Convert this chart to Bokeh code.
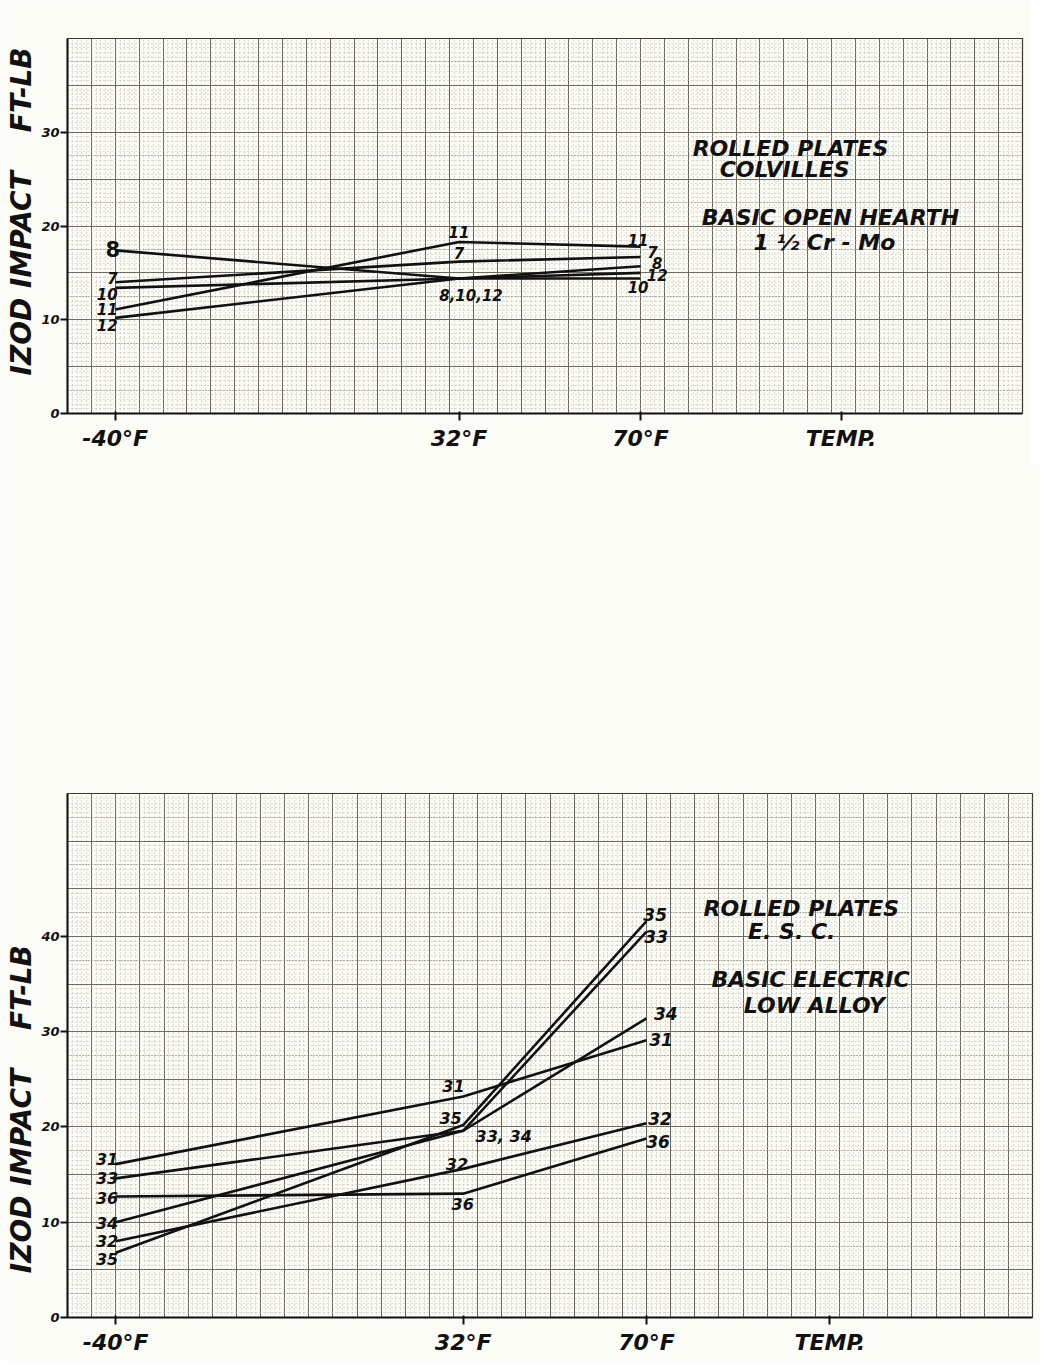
from bokeh.plotting import figure
from bokeh.models import (Range1d, FixedTicker, SingleIntervalTicker, Grid,
                          ColumnDataSource)
from bokeh.layouts import column
from bokeh.core.properties import value
from bokeh.embed import file_html
from bokeh.resources import INLINE

# ---------------- data ----------------
temps = [-40, 32, 70]
temp_tick_labels = {-40: "-40°F", 32: "32°F", 70: "70°F"}

# Top panel: Colvilles, basic open hearth 1 1/2 Cr-Mo
top_series_names = ["7", "8", "10", "11", "12"]
top_s7 = [14.0, 16.2, 16.7]
top_s8 = [17.4, 14.4, 15.7]
top_s10 = [13.4, 14.4, 14.4]
top_s11 = [11.1, 18.3, 17.8]
top_s12 = [10.2, 14.4, 15.0]
top_yticks = [0, 10, 20, 30]

# Bottom panel: E.S.C., basic electric low alloy
bot_series_names = ["31", "32", "33", "34", "35", "36"]
bot_s31 = [16.1, 23.2, 29.1]
bot_s32 = [8.0, 15.6, 20.4]
bot_s33 = [14.6, 19.6, 40.5]
bot_s34 = [10.0, 19.6, 31.4]
bot_s35 = [6.8, 20.2, 41.6]
bot_s36 = [12.7, 13.0, 18.8]
bot_yticks = [0, 10, 20, 30, 40]

# series labels as written on the chart
top_labels_left = ["7", "10", "11", "12"]
top_labels_left_y = [14.5, 12.7, 11.1, 9.4]
top_label_8 = ("8", 17.6)
top_labels_mid = ["11", "7", "8,10,12"]
top_labels_mid_x = [32.0, 32.0, 34.5]
top_labels_mid_y = [19.4, 17.1, 12.6]
top_labels_right = ["11", "7", "8", "12", "10"]
top_labels_right_x = [69.5, 72.5, 73.5, 73.5, 69.5]
top_labels_right_y = [18.5, 17.2, 16.1, 14.8, 13.5]

bot_labels_left = ["31", "33", "36", "34", "32", "35"]
bot_labels_left_y = [16.6, 14.6, 12.5, 9.9, 8.0, 6.1]
bot_labels_mid = ["31", "35", "33, 34", "32", "36"]
bot_labels_mid_x = [30.0, 29.4, 40.4, 30.7, 31.9]
bot_labels_mid_y = [24.3, 20.9, 19.0, 16.1, 11.9]
bot_labels_right = ["35", "33", "34", "31", "32", "36"]
bot_labels_right_x = [71.8, 72.0, 74.0, 73.0, 72.8, 72.4]
bot_labels_right_y = [42.3, 40.0, 31.9, 29.2, 20.9, 18.5]

top_notes = ["ROLLED PLATES", "COLVILLES", "BASIC OPEN HEARTH", "1 ½ Cr - Mo"]
top_notes_x = [101.4, 100.2, 109.8, 108.5]
top_notes_y = [28.3, 26.0, 20.9, 18.2]
bot_notes = ["ROLLED PLATES", "E. S. C.", "BASIC ELECTRIC", "LOW ALLOY"]
bot_notes_x = [102.1, 100.1, 104.0, 104.8]
bot_notes_y = [42.9, 40.5, 35.5, 32.8]

NB = "\u00a0"
y_title = "IZOD IMPACT" + NB * 4 + "FT-LB"
x_title = "TEMP."
top_x_title_at = 112
bot_x_title_at = 108

# ---------------- style ----------------
FONT_NAME = "DejaVu Sans"
FONT = value(FONT_NAME)
PAPER = "#fcfcf7"
INK = "#111111"


def make_panel(height, width, ymax, yticks, xticks, xlabels, ytitle,
               b_left, b_right, b_top, b_bottom):
    p = figure(width=width, height=height, output_backend="svg", toolbar_location=None,
               x_range=Range1d(-50, 150), y_range=Range1d(0, ymax),
               min_border_left=b_left, min_border_right=b_right,
               min_border_top=b_top, min_border_bottom=b_bottom)
    p.background_fill_color = PAPER
    p.border_fill_color = PAPER
    p.outline_line_color = "#3a382f"
    p.outline_line_width = 1.2

    # graph-paper grid
    p.xgrid.ticker = SingleIntervalTicker(interval=5, num_minor_ticks=5)
    p.xgrid.grid_line_color = "#6a665e"
    p.xgrid.grid_line_width = 1.0
    p.xgrid.minor_grid_line_color = "#bcb8a8"
    p.xgrid.minor_grid_line_dash = "1 3"
    p.xgrid.minor_grid_line_width = 1.0
    p.ygrid.ticker = SingleIntervalTicker(interval=5, num_minor_ticks=10)
    p.ygrid.grid_line_color = "#6a665e"
    p.ygrid.grid_line_width = 1.0
    p.ygrid.minor_grid_line_color = "#bcb8a8"
    p.ygrid.minor_grid_line_dash = "1 3"
    p.ygrid.minor_grid_line_width = 1.0
    mid = Grid(dimension=1, ticker=SingleIntervalTicker(interval=2.5),
               grid_line_color="#7a766c", grid_line_dash="1 2", grid_line_width=1.0)
    p.add_layout(mid)

    # axes
    p.xaxis.ticker = FixedTicker(ticks=xticks)
    p.xaxis.major_label_overrides = xlabels
    p.xaxis.minor_tick_line_color = None
    p.xaxis.major_tick_out = 7
    p.xaxis.major_tick_in = 2
    p.xaxis.major_tick_line_width = 2
    p.xaxis.major_tick_line_color = INK
    p.xaxis.axis_line_width = 2
    p.xaxis.axis_line_color = INK
    p.xaxis.major_label_standoff = 5
    p.xaxis.major_label_text_font = FONT_NAME
    p.xaxis.major_label_text_font_style = "bold italic"
    p.xaxis.major_label_text_font_size = "22px"
    p.xaxis.major_label_text_color = INK

    p.yaxis.ticker = FixedTicker(ticks=yticks)
    p.yaxis.minor_tick_line_color = None
    p.yaxis.major_tick_out = 7
    p.yaxis.major_tick_in = 0
    p.yaxis.major_tick_line_width = 2
    p.yaxis.major_tick_line_color = INK
    p.yaxis.axis_line_width = 2
    p.yaxis.axis_line_color = INK
    p.yaxis.major_label_standoff = 1
    p.yaxis.major_label_text_font = FONT_NAME
    p.yaxis.major_label_text_font_style = "bold italic"
    p.yaxis.major_label_text_font_size = "13px"
    p.yaxis.major_label_text_color = INK
    p.yaxis.axis_label = ytitle
    p.yaxis.axis_label_standoff = 0
    p.yaxis.axis_label_text_font = FONT_NAME
    p.yaxis.axis_label_text_font_style = "bold italic"
    p.yaxis.axis_label_text_font_size = "28px"
    p.yaxis.axis_label_text_color = INK
    return p


def draw_lines(p, series):
    for ys in series:
        p.line(temps, ys, line_color=INK, line_width=2.6)


def draw_text(p, xs, ys, texts, size, align="center", style="bold italic"):
    src = ColumnDataSource(dict(x=xs, y=ys, t=texts))
    p.text(x="x", y="y", text="t", source=src, text_font=FONT,
           text_font_style=style, text_font_size=size, text_align=align,
           text_baseline="middle", text_color=INK)


# ---------------- top panel ----------------
top_xlabels = dict(temp_tick_labels)
top_xlabels[top_x_title_at] = x_title
p1 = make_panel(height=463, width=1030, ymax=40, yticks=top_yticks,
                xticks=temps + [top_x_title_at], xlabels=top_xlabels,
                ytitle=NB * 3 + y_title,
                b_left=67, b_right=8, b_top=38, b_bottom=50)
draw_lines(p1, [top_s7, top_s8, top_s10, top_s11, top_s12])
draw_text(p1, [temps[0] + 0.5] * len(top_labels_left), top_labels_left_y,
          top_labels_left, "15px", align="right")
draw_text(p1, [temps[0] + 1.0], [top_label_8[1]], [top_label_8[0]], "21px",
          align="right", style="bold")
draw_text(p1, top_labels_mid_x, top_labels_mid_y, top_labels_mid, "15px")
draw_text(p1, top_labels_right_x, top_labels_right_y, top_labels_right, "15px")
draw_text(p1, top_notes_x, top_notes_y, top_notes, "22px")

# ---------------- bottom panel ----------------
bot_xlabels = dict(temp_tick_labels)
bot_xlabels[bot_x_title_at] = x_title
p2 = make_panel(height=898, width=1040, ymax=55, yticks=bot_yticks,
                xticks=temps + [bot_x_title_at], xlabels=bot_xlabels,
                ytitle=y_title + NB * 11,
                b_left=67, b_right=8, b_top=330, b_bottom=44)
draw_lines(p2, [bot_s31, bot_s32, bot_s33, bot_s34, bot_s35, bot_s36])
draw_text(p2, [temps[0] + 0.5] * len(bot_labels_left), bot_labels_left_y,
          bot_labels_left, "16px", align="right")
draw_text(p2, bot_labels_mid_x, bot_labels_mid_y, bot_labels_mid, "16px")
draw_text(p2, bot_labels_right_x, bot_labels_right_y, bot_labels_right, "17px")
draw_text(p2, bot_notes_x, bot_notes_y, bot_notes, "22px")

layout = column(p1, p2, spacing=0)
open("out.html", "w").write(file_html(layout, INLINE))
